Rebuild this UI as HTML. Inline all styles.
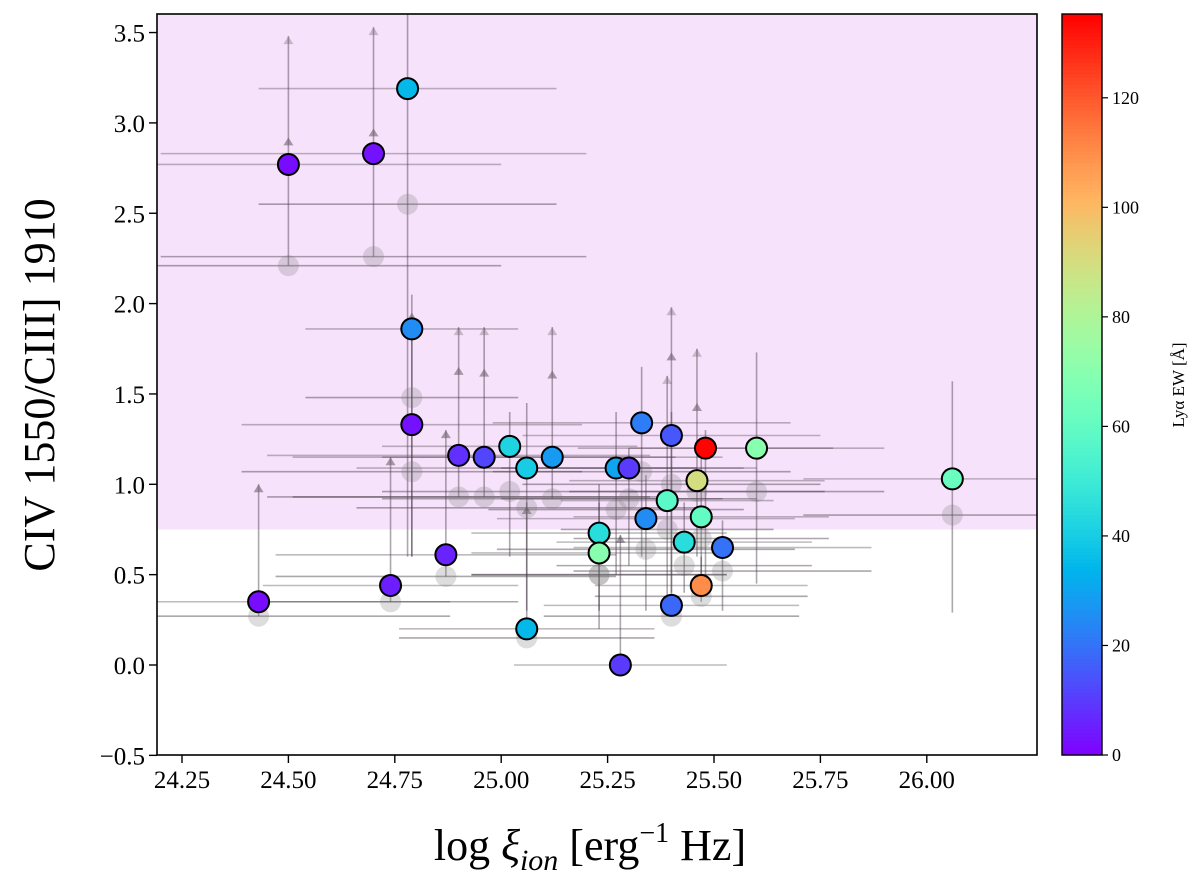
<!DOCTYPE html>
<html><head><meta charset="utf-8"><style>
html,body{margin:0;padding:0;background:#fff;}
svg{display:block;font-family:"Liberation Serif","DejaVu Serif",serif;}
</style></head><body>
<svg id="chart" width="1200" height="885" viewBox="0 0 1200 885">
<defs>
<clipPath id="pc"><rect x="157" y="14" width="880" height="741"/></clipPath>
</defs>
<g id="plot" clip-path="url(#pc)"></g>
<g id="axes"></g>
<g id="cbar"></g>
<text x="590" y="860" text-anchor="middle" font-size="44">log <tspan font-style="italic">ξ</tspan><tspan font-style="italic" font-size="30" dy="10">ion</tspan><tspan dy="-10"> [erg</tspan><tspan font-size="28" dy="-18">−1</tspan><tspan dy="18"> Hz]</tspan></text>
<text transform="translate(54,385) rotate(-90)" text-anchor="middle" font-size="44">CIV 1550/CIII] 1910</text>
<text transform="translate(1184,385) rotate(-90)" text-anchor="middle" font-size="17">Lyα EW [Å]</text>
</svg>
<script>
const xs=[24.43,24.50,24.70,24.78,24.79,24.79,24.74,24.87,24.90,24.96,25.02,25.06,25.06,25.12,25.23,25.23,25.27,25.30,25.28,25.33,25.34,25.39,25.40,25.40,25.43,25.46,25.48,25.47,25.47,25.52,25.60,26.06];
const ys=[0.35,2.77,2.83,3.19,1.86,1.33,0.44,0.61,1.16,1.15,1.21,1.09,0.20,1.15,0.73,0.62,1.09,1.09,0.0,1.34,0.81,0.91,1.27,0.33,0.68,1.02,1.20,0.82,0.44,0.65,1.20,1.03];
const ews=[2,2,3,35,25,3,5,6,8,12,42,40,35,28,45,70,30,10,10,22,25,58,15,18,45,90,135,60,110,20,70,62];
const xerr=[0.45,0.5,0.5,0.35,0.25,0.4,0.3,0.4,0.45,0.45,0.3,0.4,0.3,0.4,0.3,0.3,0.3,0.3,0.25,0.35,0.35,0.25,0.35,0.3,0.3,0.3,0.3,0.3,0.25,0.35,0.3,0.35];
const yLo=[0.27,2.21,2.26,0.6,0.6,0.6,0.35,0.49,0.93,0.93,0.6,0.3,0.15,0.92,0.3,0.2,0.5,0.55,0,0.6,0.3,0.3,0.4,0.27,0.4,0.6,0.5,0.5,0.35,0.3,0.45,0.29];
const yHi=[1.0,3.48,3.53,3.6,2.05,1.8,1.15,1.3,1.87,1.87,1.4,1.45,0.9,1.87,1.0,0.9,1.4,1.2,0.72,1.65,1.05,1.6,1.98,1.4,0.9,1.75,1.3,1.2,0.6,0.8,1.73,1.57];
const ghost=[0.27,2.21,2.26,2.55,1.48,1.07,0.35,0.49,0.93,0.93,0.96,0.87,0.15,0.92,0.5,0.5,0.86,0.92,null,1.07,0.64,0.75,1.0,0.27,0.55,0.96,null,0.70,0.38,0.52,0.96,0.83];
const arrowTop=[1.0,2.92,2.97,null,1.95,null,1.15,1.3,1.65,1.64,null,null,0.88,1.63,null,null,null,null,0.72,null,null,1.27,1.73,null,null,1.45,null,null,null,null,null,null];
const xTicks=[24.25,24.50,24.75,25.00,25.25,25.50,25.75,26.00];
const yTicks=[-0.5,0.0,0.5,1.0,1.5,2.0,2.5,3.0,3.5];
const cTicks=[0,20,40,60,80,100,120];
const shadeY=0.75;

const X0=157,X1=1037,Y0=14,Y1=755;
const sx=v=>182+(v-24.25)*425.6;
const sy=v=>665-v*180.7;
const CMAX=135.3;
const cy=v=>755-v*(741/CMAX);
function rainbow(t){t=Math.max(0,Math.min(1,t));
 const r=Math.min(1,Math.abs(2*t-0.5)),g=Math.sin(Math.PI*t),b=Math.cos(Math.PI*t/2);
 return `rgb(${Math.round(r*255)},${Math.round(g*255)},${Math.round(b*255)})`;}
const NS='http://www.w3.org/2000/svg';
function mk(tag,attrs,parent){const e=document.createElementNS(NS,tag);for(const k in attrs)e.setAttribute(k,attrs[k]);parent.appendChild(e);return e;}
const plot=document.getElementById('plot'),axes=document.getElementById('axes'),cbar=document.getElementById('cbar');

let bg=mk('rect',{x:X0,y:Y0,width:X1-X0,height:sy(shadeY)-Y0,fill:'#f7e2fc'},plot);



for(let i=0;i<xs.length;i++){
 const g=mk('g',{},plot);
 
 
 const yy=sy(ys[i]);
 mk('line',{x1:sx(xs[i]-xerr[i]),x2:sx(xs[i]+xerr[i]),y1:yy,y2:yy,stroke:'rgba(70,60,70,0.35)','stroke-width':1.6},g);
 if(ghost[i]!==null){const gy=sy(ghost[i]);
  mk('line',{x1:sx(xs[i]-xerr[i]),x2:sx(xs[i]+xerr[i]),y1:gy,y2:gy,stroke:'rgba(70,60,70,0.45)','stroke-width':1.6},g);}
 mk('line',{x1:sx(xs[i]),x2:sx(xs[i]),y1:sy(yLo[i]),y2:sy(yHi[i]),stroke:'rgba(70,60,70,0.45)','stroke-width':1.6},g);
 if(arrowTop[i]!==null){const ax=sx(xs[i]),ay=sy(arrowTop[i]);
  mk('polygon',{points:`${ax-5},${ay+8} ${ax+5},${ay+8} ${ax},${ay}`,fill:'rgba(110,100,110,0.6)'},g);}
 if(yHi[i]<3.59 && arrowTop[i]!==null && yHi[i]>arrowTop[i]+0.1){const ax=sx(xs[i]),ay=sy(yHi[i]);
  mk('polygon',{points:`${ax-5},${ay+8} ${ax+5},${ay+8} ${ax},${ay}`,fill:'rgba(110,100,110,0.35)'},g);}
}
for(let i=0;i<xs.length;i++){ if(ghost[i]===null)continue;
 const c=mk('circle',{cx:sx(xs[i]),cy:sy(ghost[i]),r:10.5,fill:'rgba(120,120,120,0.25)'},plot);
 
 
}
for(let i=0;i<xs.length;i++){
 const c=mk('circle',{cx:sx(xs[i]),cy:sy(ys[i]),r:10.5,fill:rainbow(ews[i]/CMAX),stroke:'#000','stroke-width':2},plot);
 
 
}
let fr=mk('rect',{x:X0,y:Y0,width:X1-X0,height:Y1-Y0,fill:'none',stroke:'#000','stroke-width':1.6},axes);


xTicks.forEach(v=>{const x=sx(v);
 mk('line',{x1:x,x2:x,y1:Y1,y2:Y1+8,stroke:'#000','stroke-width':1.4},axes);
 const t=mk('text',{x:x,y:Y1+33,'text-anchor':'middle','font-size':25},axes);t.textContent=v.toFixed(2);
 
 
});
yTicks.forEach(v=>{const y=sy(v);
 mk('line',{x1:X0-8,x2:X0,y1:y,y2:y,stroke:'#000','stroke-width':1.4},axes);
 const t=mk('text',{x:X0-12,y:y+9,'text-anchor':'end','font-size':25},axes);t.textContent=(v<0?'\u2212':'')+Math.abs(v).toFixed(1);
 
 
});
const CX=1062,CW=40;
for(let k=0;k<200;k++){const v0=k*CMAX/200,v1=(k+1)*CMAX/200;
 mk('rect',{x:CX,y:cy(v1),width:CW,height:cy(v0)-cy(v1)+0.6,fill:rainbow((v0+v1)/2/CMAX)},cbar);}
let cf=mk('rect',{x:CX,y:Y0,width:CW,height:Y1-Y0,fill:'none',stroke:'#000','stroke-width':1.4},cbar);


cTicks.forEach(v=>{const y=cy(v);
 mk('line',{x1:CX+CW,x2:CX+CW+6,y1:y,y2:y,stroke:'#000','stroke-width':1.2},cbar);
 const t=mk('text',{x:CX+CW+10,y:y+6,'font-size':18},cbar);t.textContent=v;
 
 
});
</script>
</body></html>
